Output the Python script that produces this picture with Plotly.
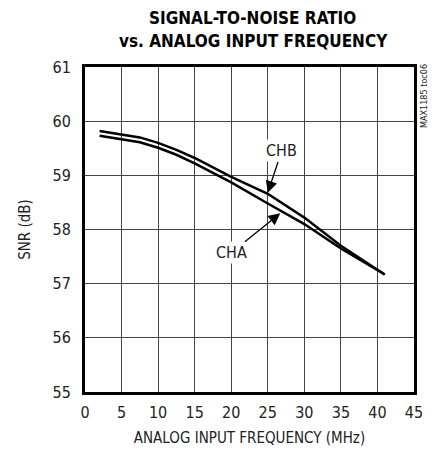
import plotly.graph_objects as go

freq = [2, 5, 7.5, 10, 12.5, 15, 20, 25, 30, 35, 41]
chb = [59.82, 59.76, 59.70, 59.60, 59.47, 59.32, 58.97, 58.66, 58.22, 57.70, 57.17]
cha = [59.73, 59.67, 59.61, 59.51, 59.38, 59.22, 58.87, 58.48, 58.10, 57.65, 57.17]
x_ticks = [0, 5, 10, 15, 20, 25, 30, 35, 40, 45]
y_ticks = [55, 56, 57, 58, 59, 60, 61]

FONT = "DejaVu Sans Condensed, Liberation Sans Narrow, Liberation Sans, sans-serif"

fig = go.Figure()
fig.add_trace(go.Scatter(x=freq, y=chb, mode="lines", name="CHB",
                         line=dict(color="black", width=2.5)))
fig.add_trace(go.Scatter(x=freq, y=cha, mode="lines", name="CHA",
                         line=dict(color="black", width=2.5)))

fig.update_layout(
    width=428, height=452,
    margin=dict(l=77, r=22, t=59, b=68, autoexpand=False),
    paper_bgcolor="white", plot_bgcolor="white",
    showlegend=False,
    font=dict(family=FONT, color="#222", size=15),
)
fig.update_xaxes(range=[0, 45], tickvals=x_ticks, showgrid=True, gridcolor="#444",
                 gridwidth=1, showline=True, linecolor="black", linewidth=3, mirror=True,
                 ticks="", zeroline=False, automargin=False,
                 tickfont=dict(size=16), ticklabelstandoff=4,
                 title=dict(text="ANALOG INPUT FREQUENCY (MHz)", font=dict(size=15), standoff=12))
fig.update_yaxes(range=[55, 61], tickvals=y_ticks, showgrid=True, gridcolor="#444",
                 gridwidth=1, showline=True, linecolor="black", linewidth=3, mirror=True,
                 ticks="", zeroline=False, automargin=False,
                 tickfont=dict(size=16), ticklabelstandoff=8,
                 title=dict(text="SNR (dB)", font=dict(size=15), standoff=19))

# page coords -> paper coords (plot area spans x 85..414, y 67..392 on the page)
def px(xp):
    return (xp - 85) / 329

def py(yp):
    return 1 - (yp - 67) / 325

fig.add_annotation(xref="paper", yref="paper", x=px(252), y=py(18),
                   xanchor="center", yanchor="middle", showarrow=False,
                   text="<b>SIGNAL-TO-NOISE RATIO</b>",
                   font=dict(size=17, color="black"))
fig.add_annotation(xref="paper", yref="paper", x=px(253), y=py(41),
                   xanchor="center", yanchor="middle", showarrow=False,
                   text="<b>vs. ANALOG INPUT FREQUENCY</b>",
                   font=dict(size=17, color="black"))

fig.add_annotation(x=25.0, y=58.68, ax=26.9, ay=59.45, axref="x", ayref="y",
                   text="CHB", showarrow=True, arrowhead=2, arrowsize=1.8, arrowwidth=1.3,
                   arrowcolor="black", font=dict(size=16, color="#222"), bgcolor="white")
fig.add_annotation(x=26.7, y=58.30, ax=20.0, ay=57.57, axref="x", ayref="y",
                   text="CHA", showarrow=True, arrowhead=2, arrowsize=1.8, arrowwidth=1.3,
                   arrowcolor="black", font=dict(size=16, color="#222"), bgcolor="white")
fig.add_annotation(xref="paper", yref="paper", x=px(424), y=py(62),
                   xanchor="center", yanchor="top",
                   text="MAX1185 toc06", textangle=-90, showarrow=False,
                   font=dict(size=9, color="#222"))

fig.write_html("out.html")
